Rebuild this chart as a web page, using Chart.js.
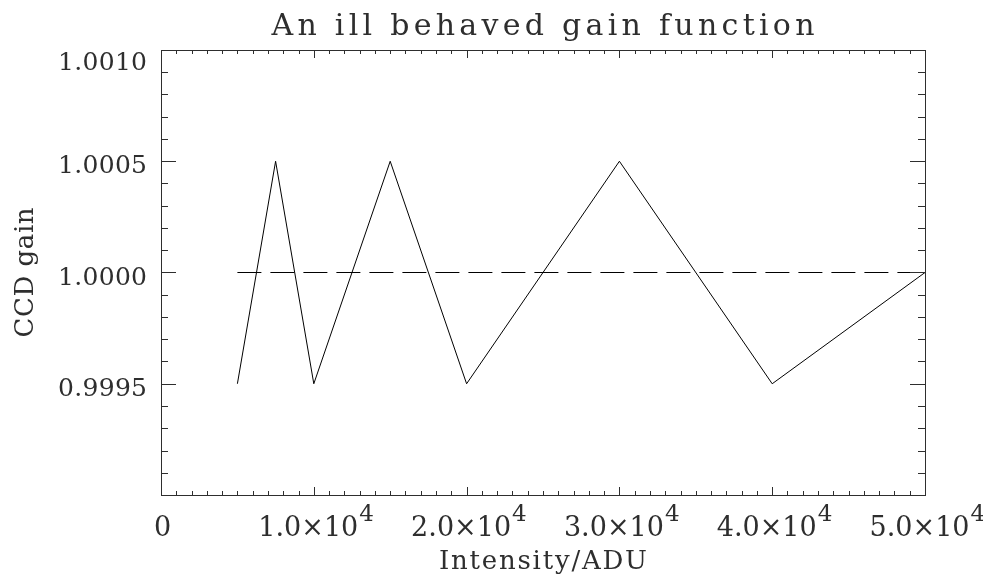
<!DOCTYPE html>
<html><head><meta charset="utf-8">
<script src="https://cdn.jsdelivr.net/npm/chart.js@4/dist/chart.umd.min.js"></script>
<style>html,body{margin:0;padding:0;background:#fff}#wrap{width:983px;height:576px}</style>
</head><body><div id="wrap"><canvas id="c" width="983" height="576"></canvas></div>
<script>
const intensity = [5000, 7500, 10000, 15000, 20000, 30000, 40000, 50000];
const gain = [0.9995, 1.0005, 0.9995, 1.0005, 0.9995, 1.0005, 0.9995, 1.0000];
const refX = [5000, 50000];
const refY = [1.0, 1.0];
const xTickValues = [0, 10000, 20000, 30000, 40000, 50000];
const xTickMantissa = ['0', '1.0', '2.0', '3.0', '4.0', '5.0'];
const xTickExponent = ['', '4', '4', '4', '4', '4'];
const yTickValues = [1.0010, 1.0005, 1.0000, 0.9995];
const yTickLabels = ['1.0010', '1.0005', '1.0000', '0.9995'];
const titleText = 'An ill behaved gain function';
const xTitle = 'Intensity/ADU';
const yTitle = 'CCD gain';

const FONT = '"DejaVu Serif"';
const INK = '#2e2e2e';

function drawFit(ctx, text, x, y, size, width, align) {
  ctx.font = size + 'px ' + FONT;
  ctx.letterSpacing = '0px';
  const w = ctx.measureText(text).width;
  const n = text.length - 1;
  const ls = n > 0 ? (width - w) / n : 0;
  ctx.letterSpacing = ls + 'px';
  ctx.textAlign = 'left';
  const x0 = align === 'center' ? x - width / 2 : align === 'right' ? x - width : x;
  ctx.fillText(text, x0, y);
  ctx.letterSpacing = '0px';
}

const axesPlugin = {
  id: 'idlAxes',
  afterDraw(chart) {
    const ctx = chart.ctx;
    const a = chart.chartArea;
    const xs = chart.scales.x, ys = chart.scales.y;
    ctx.save();
    ctx.strokeStyle = INK;
    ctx.fillStyle = INK;
    ctx.lineWidth = 1;
    ctx.strokeRect(Math.round(a.left) + 0.5, Math.round(a.top) + 0.5,
      Math.round(a.right - a.left), Math.round(a.bottom - a.top));
    ctx.beginPath();
    for (let v = xs.min; v <= xs.max + 1e-6; v += 1000) {
      const px = Math.round(xs.getPixelForValue(v)) + 0.5;
      const major = Math.abs(v % 10000) < 1e-6;
      const L = major ? 8 : 4;
      ctx.moveTo(px, a.bottom); ctx.lineTo(px, a.bottom - L);
      ctx.moveTo(px, a.top); ctx.lineTo(px, a.top + L);
    }
    for (let i = 0; i <= 20; i++) {
      const v = ys.min + i * 0.0001;
      const py = Math.round(ys.getPixelForValue(v)) + 0.5;
      const major = i % 5 === 0;
      const L = major ? 15 : 7;
      ctx.moveTo(a.left, py); ctx.lineTo(a.left + L, py);
      ctx.moveTo(a.right, py); ctx.lineTo(a.right - L, py);
    }
    ctx.stroke();

    yTickValues.forEach((v, i) => {
      const py = ys.getPixelForValue(v);
      const base = Math.max(py + 12, a.top + 20);
      drawFit(ctx, yTickLabels[i], 147, base, 25, 89, 'right');
    });
    xTickValues.forEach((v, i) => {
      const px = xs.getPixelForValue(v);
      if (!xTickExponent[i]) {
        drawFit(ctx, xTickMantissa[i], px, 536, 27, 14, 'center');
      } else {
        const main = xTickMantissa[i] + '\u00d710';
        const mainW = 100, supW = 13;
        const x0 = px - (mainW + supW) / 2 + 1;
        drawFit(ctx, main, x0, 536, 27, mainW, 'left');
        drawFit(ctx, xTickExponent[i], x0 + mainW + 1, 521, 23, supW, 'left');
      }
    });
    drawFit(ctx, titleText, (a.left + a.right) / 2, 35, 30, 543, 'center');
    drawFit(ctx, xTitle, (a.left + a.right) / 2, 569, 26, 208, 'center');
    ctx.save();
    ctx.translate(33, (a.top + a.bottom) / 2);
    ctx.rotate(-Math.PI / 2);
    drawFit(ctx, yTitle, 0, 0, 26, 130, 'center');
    ctx.restore();
    ctx.restore();
  }
};

new Chart(document.getElementById('c'), {
  type: 'scatter',
  data: {
    datasets: [
      {
        data: intensity.map((x, i) => ({ x, y: gain[i] })),
        showLine: true, borderColor: '#000', borderWidth: 1, pointRadius: 0, tension: 0, fill: false
      },
      {
        data: refX.map((x, i) => ({ x, y: refY[i] })),
        showLine: true, borderColor: '#000', borderWidth: 1, borderDash: [24, 9], pointRadius: 0, fill: false
      }
    ]
  },
  options: {
    responsive: false,
    animation: false,
    layout: { padding: { left: 161, top: 50, right: 58, bottom: 81 } },
    plugins: { legend: { display: false }, tooltip: { enabled: false }, title: { display: false } },
    scales: {
      x: { type: 'linear', min: 0, max: 50000, display: false },
      y: { type: 'linear', min: 0.9990, max: 1.0010, display: false }
    }
  },
  plugins: [axesPlugin]
});
</script>
</body></html>
